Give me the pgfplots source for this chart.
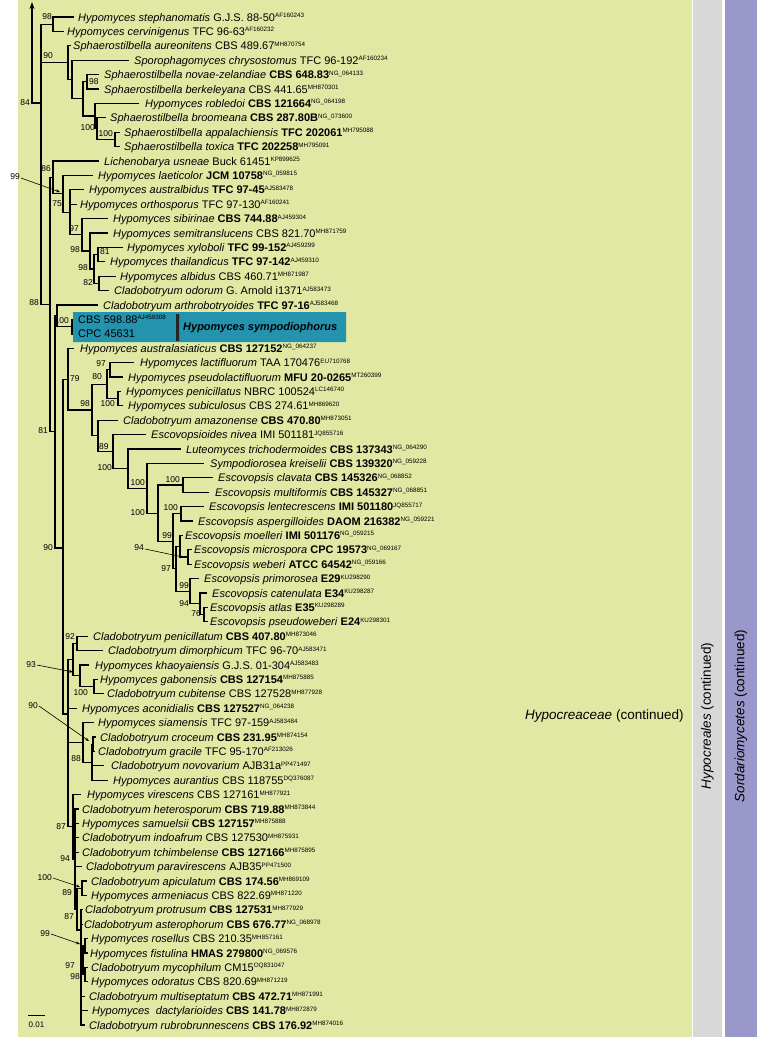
\documentclass[border=0pt]{standalone}
\usepackage{pgfplots}
\pgfplotsset{compat=1.18}
\usepackage{fontspec}
\setmainfont{Liberation Sans}
\usetikzlibrary{arrows.meta}
\definecolor{bgy}{RGB}{225,232,163}
\definecolor{boxc}{RGB}{35,147,174}
\definecolor{purp}{RGB}{154,151,202}
\definecolor{gry}{RGB}{216,216,216}
\newcommand{\acc}[1]{\raisebox{3.6pt}{\fontsize{6.3}{7}\selectfont #1}}
\newcommand{\tx}[3]{\node[anchor=base west, inner sep=0pt, font=\fontsize{11}{13}\selectfont] at (axis cs:#1,#2) {#3};}
\newcommand{\bsR}[3]{\node[anchor=east, inner sep=0pt, font=\fontsize{8.5}{9}\selectfont] at (axis cs:#1,#2) {#3};}
\newcommand{\bsL}[3]{\node[anchor=west, inner sep=0pt, font=\fontsize{8.5}{9}\selectfont] at (axis cs:#1,#2) {#3};}
\newcommand{\br}[1]{\addplot[black, line width=1.1pt, line cap=rect] coordinates {#1};}
\newcommand{\arr}[1]{\addplot[black, line width=0.6pt, -{Stealth[length=4pt,width=3pt]}] coordinates {#1};}
\begin{document}
\begin{tikzpicture}
\begin{axis}[width=757pt, height=1037pt, scale only axis, xmin=0, xmax=757, ymin=0, ymax=1037, y dir=reverse, hide axis, clip=false]
% backgrounds
\addplot[draw=none, fill=white] coordinates {(0,0) (757,0) (757,1037) (0,1037) (0,0)};
\addplot[draw=none, fill=bgy] coordinates {(18,0) (692,0) (692,1037) (18,1037) (18,0)};
\addplot[draw=none, fill=gry] coordinates {(693,0) (722,0) (722,1037) (693,1037) (693,0)};
\addplot[draw=none, fill=purp] coordinates {(725,0) (757,0) (757,1037) (725,1037) (725,0)};
\addplot[draw=none, fill=boxc] coordinates {(73,312) (346,312) (346,342) (73,342) (73,312)};
\addplot[draw=none, fill=black!85] coordinates {(176,314) (179,314) (179,341) (176,341) (176,314)};
% root
\addplot[black, line width=1.1pt, -{Stealth[length=7pt,width=5pt]}] coordinates {(41,103) (32,103) (32,2)};
% upper clades
\br{(53,24.2) (41,24.2) (41,304.5) (50,304.5)}
\br{(41,62.7) (68,62.7)}
\br{(73,17) (53,17) (53,31.4) (63,31.4)}
\br{(70,45.8) (68,45.8) (68,79.55) (72,79.55)}
\br{(128,60.2) (72,60.2) (72,98.9) (83,98.9)}
\br{(87,81.8) (83,81.8) (83,116) (95,116)}
\br{(98,74.6) (87,74.6) (87,89) (98,89)}
\br{(138,103.4) (95,103.4) (95,128.6) (97,128.6)}
\br{(105,117.8) (97,117.8) (97,139.4) (115,139.4)}
\br{(119,132.2) (115,132.2) (115,146.6) (119,146.6)}
\br{(53,177.4) (50,177.4) (50,431.9) (55,431.9)}
\br{(98,161) (53,161) (53,193.85) (63,193.85)}
\br{(92,175.4) (63,175.4) (63,212.3) (70,212.3)}
\br{(83,189.8) (70,189.8) (70,234.8) (82,234.8)}
\br{(70,204.2) (76,204.2)}
\br{(107,218.6) (82,218.6) (82,251) (90,251)}
\br{(107,233) (90,233) (90,269) (94,269)}
\br{(98,254.6) (94,254.6) (94,283.4) (99,283.4)}
\br{(122,247.4) (98,247.4) (98,261.8) (104,261.8)}
\br{(115,276.2) (99,276.2) (99,290.6) (108,290.6)}
\br{(57,315.8) (55,315.8) (55,548) (63,548)}
\br{(97,305) (57,305) (57,326.6) (72,326.6)}
\addplot[black, line width=2.2pt] coordinates {(72,319) (72,335)};
\br{(68,379.1) (63,379.1) (63,714) (68,714)}
\br{(73,348.2) (68,348.2) (68,410) (92,410)}
\br{(107,384.2) (92,384.2) (92,435.9) (98,435.9)}
\br{(110,369.8) (107,369.8) (107,398.6) (118,398.6)}
\br{(133,362.6) (110,362.6) (110,377) (122,377)}
\br{(120,391.4) (118,391.4) (118,405.8) (122,405.8)}
\br{(117,420.2) (98,420.2) (98,451.6) (113,451.6)}
\br{(145,434.6) (113,434.6) (113,468.6) (128,468.6)}
\br{(180,449) (128,449) (128,488.3) (147,488.3)}
\br{(203,463.4) (147,463.4) (147,513.1) (158,513.1)}
\br{(183,485) (158,485) (158,541.25) (173,541.25)}
\br{(212,477.8) (183,477.8) (183,492.2) (208,492.2)}
\br{(181,513.8) (173,513.8) (173,568.7) (176,568.7)}
\br{(203,506.6) (181,506.6) (181,521) (192,521)}
\br{(180,546.2) (176,546.2) (176,591.2) (190,591.2)}
\br{(182,535.4) (180,535.4) (180,557) (188,557)}
\br{(191,549.8) (188,549.8) (188,564.2) (191,564.2)}
\br{(198,578.6) (190,578.6) (190,603.8) (200,603.8)}
\br{(206,593) (200,593) (200,614.6) (204,614.6)}
\br{(207,607.4) (204,607.4) (204,621.8) (207,621.8)}
% lower clade
\br{(73,659.6) (68,659.6) (68,826.8) (73,826.8)}
\br{(68,708.2) (76,708.2)}
\br{(68,742.4) (83,742.4)}
\br{(77,643.4) (73,643.4) (73,675.8) (80,675.8)}
\br{(87,636.2) (77,636.2) (77,650.6) (102,650.6)}
\br{(88,665) (80,665) (80,686.6) (94,686.6)}
\br{(97,679.4) (94,679.4) (94,693.8) (103,693.8)}
\br{(93,722.6) (83,722.6) (83,762.2) (92,762.2)}
\br{(93,744.2) (92,744.2) (92,780.2) (107,780.2)}
\br{(92,765.8) (103,765.8)}
\br{(95,737) (93,737) (93,751.4) (94,751.4)}
\br{(80,794.6) (73,794.6) (73,859) (75,859)}
\br{(78,809) (75,809) (75,909) (77,909)}
\br{(75,823.4) (78,823.4)}
\br{(75,837.8) (78,837.8)}
\br{(75,852.2) (78,852.2)}
\br{(75,866.6) (81,866.6)}
\br{(82,888.2) (77,888.2) (77,930) (81,930)}
\br{(86,881) (82,881) (82,895.4) (86,895.4)}
\br{(82,909.8) (81,909.8) (81,1025) (84,1025)}
\br{(81,924.2) (82,924.2)}
\br{(81,960.2) (83,960.2)}
\br{(81,996.2) (84,996.2)}
\br{(81,1010.6) (87,1010.6)}
\br{(85,945.8) (83,945.8) (83,974.6) (85,974.6)}
\br{(87,938.6) (85,938.6) (85,953) (87,953)}
\br{(87,967.4) (85,967.4) (85,981.8) (87,981.8)}
% scale bar
\addplot[black, line width=0.8pt] coordinates {(28,1015) (45,1015)};
\node[font=\fontsize{8}{9}\selectfont, inner sep=0pt] at (axis cs:36.5,1025) {0.01};
% arrows
\arr{(21,178) (60,192)}
\arr{(145,549) (183,557)}
\arr{(37,665) (73,672)}
\arr{(39,706) (89,741)}
\arr{(53,878) (80,887)}
\arr{(51,934) (80,944)}
% support values
\bsR{52}{17}{98}
\bsR{53}{56}{90}
\bsL{89}{82}{98}
\bsR{95}{128}{100}
\bsR{113}{134}{100}
\bsR{30}{103}{84}
\bsR{51}{169}{86}
\bsR{20}{177}{99}
\bsR{62}{204}{75}
\bsR{79}{229}{97}
\bsR{80}{250}{98}
\bsL{100}{252}{81}
\bsR{88}{268}{98}
\bsR{93}{283}{82}
\bsR{39}{303}{88}
\bsR{69}{321}{100}
\bsL{70}{379}{79}
\bsR{106}{364}{97}
\bsR{102}{377}{80}
\bsR{90}{404}{98}
\bsR{115}{404}{100}
\bsR{48}{431}{81}
\bsL{99}{447}{89}
\bsR{112}{468}{100}
\bsR{145}{483}{100}
\bsR{180}{480}{100}
\bsR{145}{513}{100}
\bsR{178}{508}{100}
\bsR{172}{536}{99}
\bsR{144}{548}{94}
\bsR{53}{548}{90}
\bsR{171}{569}{97}
\bsR{189}{586}{99}
\bsR{189}{604}{94}
\bsR{201}{614}{76}
\bsR{75}{637}{92}
\bsR{36}{665}{93}
\bsR{88}{693}{100}
\bsR{38}{706}{90}
\bsR{81}{759}{88}
\bsR{66}{827}{87}
\bsR{70}{859}{94}
\bsR{52}{878}{100}
\bsR{72}{893}{89}
\bsR{74}{917}{87}
\bsR{50}{934}{99}
\bsR{75}{965.5}{97}
\bsR{80}{977}{98}
% taxa
\tx{78}{21}{\textit{Hypomyces stephanomatis} G.J.S. 88-50\acc{AF160243}}
\tx{67}{35.4}{\textit{Hypomyces cervinigenus} TFC 96-63\acc{AF160232}}
\tx{73}{49.8}{\textit{Sphaerostilbella aureonitens} CBS 489.67\acc{MH870754}}
\tx{134}{64.2}{\textit{Sporophagomyces chrysostomus} TFC 96-192\acc{AF160234}}
\tx{104}{78.6}{\textit{Sphaerostilbella novae-zelandiae} \textbf{CBS 648.83}\acc{NG\_064133}}
\tx{104}{93}{\textit{Sphaerostilbella berkeleyana} CBS 441.65\acc{MH870301}}
\tx{145}{107.4}{\textit{Hypomyces robledoi} \textbf{CBS 121664}\acc{NG\_064198}}
\tx{110}{121.8}{\textit{Sphaerostilbella broomeana} \textbf{CBS 287.80B}\acc{NG\_073600}}
\tx{124}{136.2}{\textit{Sphaerostilbella appalachiensis} \textbf{TFC 202061}\acc{MH795088}}
\tx{124}{150.6}{\textit{Sphaerostilbella toxica} \textbf{TFC 202258}\acc{MH795091}}
\tx{104}{165}{\textit{Lichenobarya usneae} Buck 61451\acc{KP899625}}
\tx{98}{179.4}{\textit{Hypomyces laeticolor} \textbf{JCM 10758}\acc{NG\_059815}}
\tx{89}{193.8}{\textit{Hypomyces australbidus} \textbf{TFC 97-45}\acc{AJ583478}}
\tx{80}{208.2}{\textit{Hypomyces orthosporus} TFC 97-130\acc{AF160241}}
\tx{113}{222.6}{\textit{Hypomyces sibirinae} \textbf{CBS 744.88}\acc{AJ459304}}
\tx{113}{237}{\textit{Hypomyces semitranslucens} CBS 821.70\acc{MH871759}}
\tx{127}{251.4}{\textit{Hypomyces xyloboli} \textbf{TFC 99-152}\acc{AJ459299}}
\tx{110}{265.8}{\textit{Hypomyces thailandicus} \textbf{TFC 97-142}\acc{AJ459310}}
\tx{120}{280.2}{\textit{Hypomyces albidus} CBS 460.71\acc{MH871987}}
\tx{114}{294.6}{\textit{Cladobotryum odorum} G. Arnold i1371\acc{AJ583473}}
\tx{103}{309}{\textit{Cladobotryum arthrobotryoides} \textbf{TFC 97-16}\acc{AJ583468}}
\tx{78}{323.4}{CBS 598.88\acc{AJ459308}}
\tx{78}{337.8}{CPC 45631}
\tx{183}{330.6}{\textbf{\textit{Hypomyces sympodiophorus}}}
\tx{80}{352.2}{\textit{Hypomyces australasiaticus} \textbf{CBS 127152}\acc{NG\_064237}}
\tx{140}{366.6}{\textit{Hypomyces lactifluorum} TAA 170476\acc{EU710768}}
\tx{128}{381}{\textit{Hypomyces pseudolactifluorum} \textbf{MFU 20-0265}\acc{MT260399}}
\tx{126}{395.4}{\textit{Hypomyces penicillatus} NBRC 100524\acc{LC146740}}
\tx{128}{409.8}{\textit{Hypomyces subiculosus} CBS 274.61\acc{MH869620}}
\tx{123}{424.2}{\textit{Cladobotryum amazonense} \textbf{CBS 470.80}\acc{MH873051}}
\tx{151}{438.6}{\textit{Escovopsioides nivea} IMI 501181\acc{JQ855716}}
\tx{186}{453}{\textit{Luteomyces trichodermoides} \textbf{CBS 137343}\acc{NG\_064290}}
\tx{210}{467.4}{\textit{Sympodiorosea kreiselii} \textbf{CBS 139320}\acc{NG\_059228}}
\tx{218}{481.8}{\textit{Escovopsis clavata} \textbf{CBS 145326}\acc{NG\_068852}}
\tx{215}{496.2}{\textit{Escovopsis multiformis} \textbf{CBS 145327}\acc{NG\_068851}}
\tx{209}{510.6}{\textit{Escovopsis lentecrescens} \textbf{IMI 501180}\acc{JQ855717}}
\tx{198}{525}{\textit{Escovopsis aspergilloides} \textbf{DAOM 216382}\acc{NG\_059221}}
\tx{185}{539.4}{\textit{Escovopsis moelleri} \textbf{IMI 501176}\acc{NG\_059215}}
\tx{194}{553.8}{\textit{Escovopsis microspora} \textbf{CPC 19573}\acc{NG\_069167}}
\tx{194}{568.2}{\textit{Escovopsis weberi} \textbf{ATCC 64542}\acc{NG\_059166}}
\tx{204}{582.6}{\textit{Escovopsis primorosea} \textbf{E29}\acc{KU298290}}
\tx{212}{597}{\textit{Escovopsis catenulata} \textbf{E34}\acc{KU298287}}
\tx{210}{611.4}{\textit{Escovopsis atlas} \textbf{E35}\acc{KU298289}}
\tx{210}{625.8}{\textit{Escovopsis pseudoweberi} \textbf{E24}\acc{KU298301}}
\tx{93}{640.2}{\textit{Cladobotryum penicillatum} \textbf{CBS 407.80}\acc{MH873046}}
\tx{108}{654.6}{\textit{Cladobotryum dimorphicum} TFC 96-70\acc{AJ583471}}
\tx{95}{669}{\textit{Hypomyces khaoyaiensis} G.J.S. 01-304\acc{AJ583483}}
\tx{100}{683.4}{\textit{Hypomyces gabonensis} \textbf{CBS 127154}\acc{MH875885}}
\tx{107}{697.8}{\textit{Cladobotryum cubitense} CBS 127528\acc{MH877928}}
\tx{82}{712.2}{\textit{Hypomyces aconidialis} \textbf{CBS 127527}\acc{NG\_064238}}
\tx{98}{726.6}{\textit{Hypomyces siamensis} TFC 97-159\acc{AJ583484}}
\tx{100}{741}{\textit{Cladobotryum croceum} \textbf{CBS 231.95}\acc{MH874154}}
\tx{98}{755.4}{\textit{Cladobotryum gracile} TFC 95-170\acc{AF213026}}
\tx{111}{769.8}{\textit{Cladobotryum novovarium} AJB31a\acc{PP471497}}
\tx{113}{784.2}{\textit{Hypomyces aurantius} CBS 118755\acc{DQ376087}}
\tx{87}{798.6}{\textit{Hypomyces virescens} CBS 127161\acc{MH877921}}
\tx{82}{813}{\textit{Cladobotryum heterosporum} \textbf{CBS 719.88}\acc{MH873844}}
\tx{82}{827.4}{\textit{Hypomyces samuelsii} \textbf{CBS 127157}\acc{MH875888}}
\tx{82}{841.8}{\textit{Cladobotryum indoafrum} CBS 127530\acc{MH875931}}
\tx{82}{856.2}{\textit{Cladobotryum tchimbelense} \textbf{CBS 127166}\acc{MH875895}}
\tx{86}{870.6}{\textit{Cladobotryum paravirescens} AJB35\acc{PP471500}}
\tx{91}{885}{\textit{Cladobotryum apiculatum} \textbf{CBS 174.56}\acc{MH869109}}
\tx{91}{899.4}{\textit{Hypomyces armeniacus} CBS 822.69\acc{MH871220}}
\tx{85}{913.8}{\textit{Cladobotryum protrusum} \textbf{CBS 127531}\acc{MH877929}}
\tx{84}{928.2}{\textit{Cladobotryum asterophorum} \textbf{CBS 676.77}\acc{NG\_068978}}
\tx{91}{942.6}{\textit{Hypomyces rosellus} CBS 210.35\acc{MH857161}}
\tx{90}{957}{\textit{Hypomyces fistulina} \textbf{HMAS 279800}\acc{NG\_069576}}
\tx{91}{971.4}{\textit{Cladobotryum mycophilum} CM15\acc{OQ831047}}
\tx{91}{985.8}{\textit{Hypomyces odoratus} CBS 820.69\acc{MH871219}}
\tx{89}{1000.2}{\textit{Cladobotryum multiseptatum} \textbf{CBS 472.71}\acc{MH871991}}
\tx{92}{1014.6}{\textit{Hypomyces}\ \ \textit{dactylarioides} \textbf{CBS 141.78}\acc{MH872879}}
\tx{89}{1029}{\textit{Cladobotryum rubrobrunnescens} \textbf{CBS 176.92}\acc{MH874016}}
% right labels
\node[anchor=west, inner sep=0pt, font=\fontsize{13.5}{15}\selectfont] at (axis cs:525,716) {\textit{Hypocreaceae} (continued)};
\node[rotate=90, inner sep=0pt, font=\fontsize{13.5}{15}\selectfont] at (axis cs:707.5,716) {\textit{Hypocreales} (continued)};
\node[rotate=90, inner sep=0pt, font=\fontsize{13.5}{15}\selectfont] at (axis cs:741,716) {\textit{Sordariomycetes} (continued)};
\end{axis}
\end{tikzpicture}
\end{document}
